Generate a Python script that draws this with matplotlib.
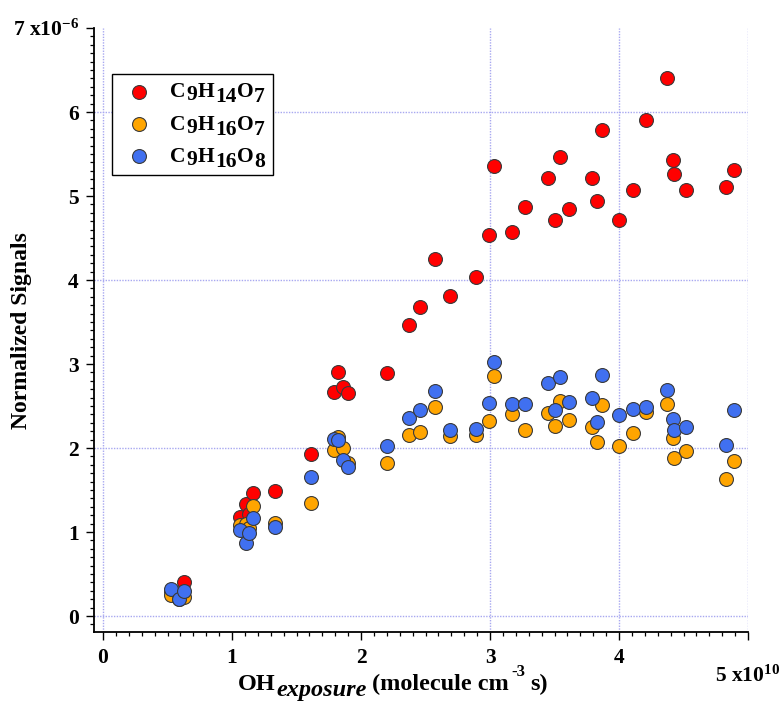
import matplotlib
matplotlib.use('Agg')
import matplotlib.pyplot as plt
from matplotlib.ticker import MultipleLocator
from matplotlib.transforms import IdentityTransform, blended_transform_factory

plt.rcParams['font.family'] = 'Liberation Serif'
plt.rcParams['font.weight'] = 'bold'
plt.rcParams['mathtext.fontset'] = 'custom'
plt.rcParams['mathtext.rm'] = 'Liberation Serif:bold'
plt.rcParams['mathtext.it'] = 'Liberation Serif:italic:bold'
plt.rcParams['mathtext.bf'] = 'Liberation Serif:bold'

# OH exposure, units of 1e10 molecule cm-3 s
exposure = [0.53, 0.59, 0.63, 1.06, 1.11, 1.13, 1.16, 1.33, 1.61, 1.79,
            1.82, 1.86, 1.90, 2.20, 2.37, 2.46, 2.57, 2.69, 2.89, 2.99,
            3.03, 3.17, 3.27, 3.45, 3.50, 3.54, 3.61, 3.79, 3.83, 3.87,
            4.00, 4.11, 4.21, 4.37, 4.42, 4.43, 4.52, 4.83, 4.89]

# normalized signals, units of 1e-6
c9h14o7 = [0.30, 0.24, 0.41, 1.18, 1.33, 1.22, 1.47, 1.49, 1.93, 2.67,
           2.91, 2.73, 2.66, 2.89, 3.47, 3.68, 4.25, 3.81, 4.04, 4.54,
           5.36, 4.57, 4.87, 5.21, 4.71, 5.46, 4.84, 5.21, 4.94, 5.79,
           4.72, 5.07, 5.90, 6.40, 5.43, 5.26, 5.07, 5.11, 5.31]
c9h16o7 = [0.25, 0.20, 0.23, 1.08, 1.10, 1.05, 1.31, 1.11, 1.34, 1.98,
           2.13, 2.00, 1.82, 1.82, 2.15, 2.19, 2.49, 2.14, 2.15, 2.32,
           2.86, 2.41, 2.22, 2.42, 2.26, 2.56, 2.33, 2.25, 2.07, 2.51,
           2.02, 2.18, 2.43, 2.53, 2.12, 1.88, 1.96, 1.63, 1.85]
c9h16o8 = [0.32, 0.20, 0.30, 1.02, 0.87, 0.99, 1.17, 1.06, 1.65, 2.11,
           2.09, 1.86, 1.78, 2.02, 2.36, 2.45, 2.68, 2.22, 2.23, 2.54,
           3.02, 2.52, 2.53, 2.77, 2.45, 2.85, 2.55, 2.59, 2.31, 2.87,
           2.39, 2.47, 2.49, 2.69, 2.34, 2.22, 2.25, 2.04, 2.45]

names = ['C9H14O7', 'C9H16O7', 'C9H16O8']
colors = ['#ff0000', '#ffa500', '#4070f0']
# pieces of each legend label: (text, lowered by px)
name_parts = [[('C', 0), ('9', 3), ('H', 0), ('14', 5), ('O', 0), ('7', 5)],
              [('C', 0), ('9', 3), ('H', 0), ('16', 5), ('O', 0), ('7', 5)],
              [('C', 0), ('9', 3), ('H', 0), ('16', 5), ('O', 0), ('8', 5)]]

xgrid = [0, 3, 4, 5]
ygrid = [0, 2, 4, 6]

W, H = 782, 709
fig = plt.figure(figsize=(W / 100, H / 100), dpi=100)
ax = fig.add_axes([94 / W, 1 - 632 / H, (748 - 94) / W, (632 - 28) / H])
ax.set_xlim(-0.07, 5.0)
ax.set_ylim(-0.19, 7.0)

gridcol = '#a8a8f0'
for gx in xgrid:
    ax.axvline(gx, color=gridcol, lw=1.0, ls=(0, (1, 1)), zorder=0)
for gy in ygrid:
    ax.axhline(gy, color=gridcol, lw=1.0, ls=(0, (1, 1)), zorder=0)

handles = []
for vals, col in zip([c9h14o7, c9h16o7, c9h16o8], colors):
    h = ax.scatter(exposure, vals, s=100, c=col, edgecolors='#3a3a3a',
                   linewidths=0.8, zorder=3)
    handles.append(h)

for s in ['top', 'right']:
    ax.spines[s].set_visible(False)
for s in ['left', 'bottom']:
    ax.spines[s].set_linewidth(1.3)

ax.set_xticks([0, 1, 2, 3, 4, 5])
ax.set_xticklabels(['0', '1', '2', '3', '4', ''])
ax.set_yticks([0, 1, 2, 3, 4, 5, 6, 7])
ax.set_yticklabels(['0', '1', '2', '3', '4', '5', '6', '7 x10$^{-6}$'])
ax.xaxis.set_minor_locator(MultipleLocator(0.1))
ax.yaxis.set_minor_locator(MultipleLocator(0.1))
ax.tick_params(which='major', direction='out', length=5.5, width=1.0, labelsize=15.5)
ax.tick_params(which='minor', direction='out', length=3, width=0.9)
ax.tick_params(axis='x', which='major', pad=6)
ax.tick_params(axis='y', which='major', pad=5.5)

ax.text(5.0, -0.055, '5 x10$^{10}$', transform=blended_transform_factory(ax.transData, ax.transAxes),
        ha='center', va='top', fontsize=15.5)

fig.text(22 / W, 1 - 331 / H, 'Normalized Signals', rotation=90, fontsize=17,
         ha='center', va='center')

leg = ax.legend(handles, names, loc='upper left', bbox_to_anchor=(0.0275, 0.9238),
                borderaxespad=0, frameon=True, fancybox=False, framealpha=1,
                edgecolor='black', prop={'family': 'Liberation Serif', 'weight': 'bold', 'size': 16},
                borderpad=0.35, labelspacing=0.53, handlelength=1.7, handletextpad=0.58)
leg.get_frame().set_linewidth(1.0)


def rich(x, y, pieces):
    # pieces: (text, style, raise_px, size, gap_after_px); x, y display pixels (baseline)
    r = fig.canvas.get_renderer()
    for txt, style, dy, sz, gap in pieces:
        t = fig.text(x, y + dy, txt, transform=IdentityTransform(), fontsize=sz,
                     fontstyle=style, fontweight='bold', ha='left', va='baseline')
        bb = t.get_window_extent(renderer=r)
        x = bb.x1 + gap


fig.canvas.draw()
r = fig.canvas.get_renderer()
for t, parts in zip(leg.get_texts(), name_parts):
    bb = t.get_window_extent(renderer=r)
    d = r.get_text_width_height_descent('lp', t.get_fontproperties(), ismath=False)[2]
    # the plain label only sizes the legend box; the styled one is drawn on top
    t.set_visible(False)
    rich(bb.x0, bb.y0 + d, [(p, 'normal', -dy, 15.5, 0.5) for p, dy in parts])

rich(238, H - 690, [('OH', 'normal', 0, 17.5, 1),
                    ('exposure', 'italic', -6, 17.5, 5),
                    ('(molecule cm', 'normal', 0, 17.5, 2),
                    ('-3', 'normal', 14, 12, 5),
                    ('s)', 'normal', 0, 17.5, 0)])

fig.savefig('out.png', dpi=100)
